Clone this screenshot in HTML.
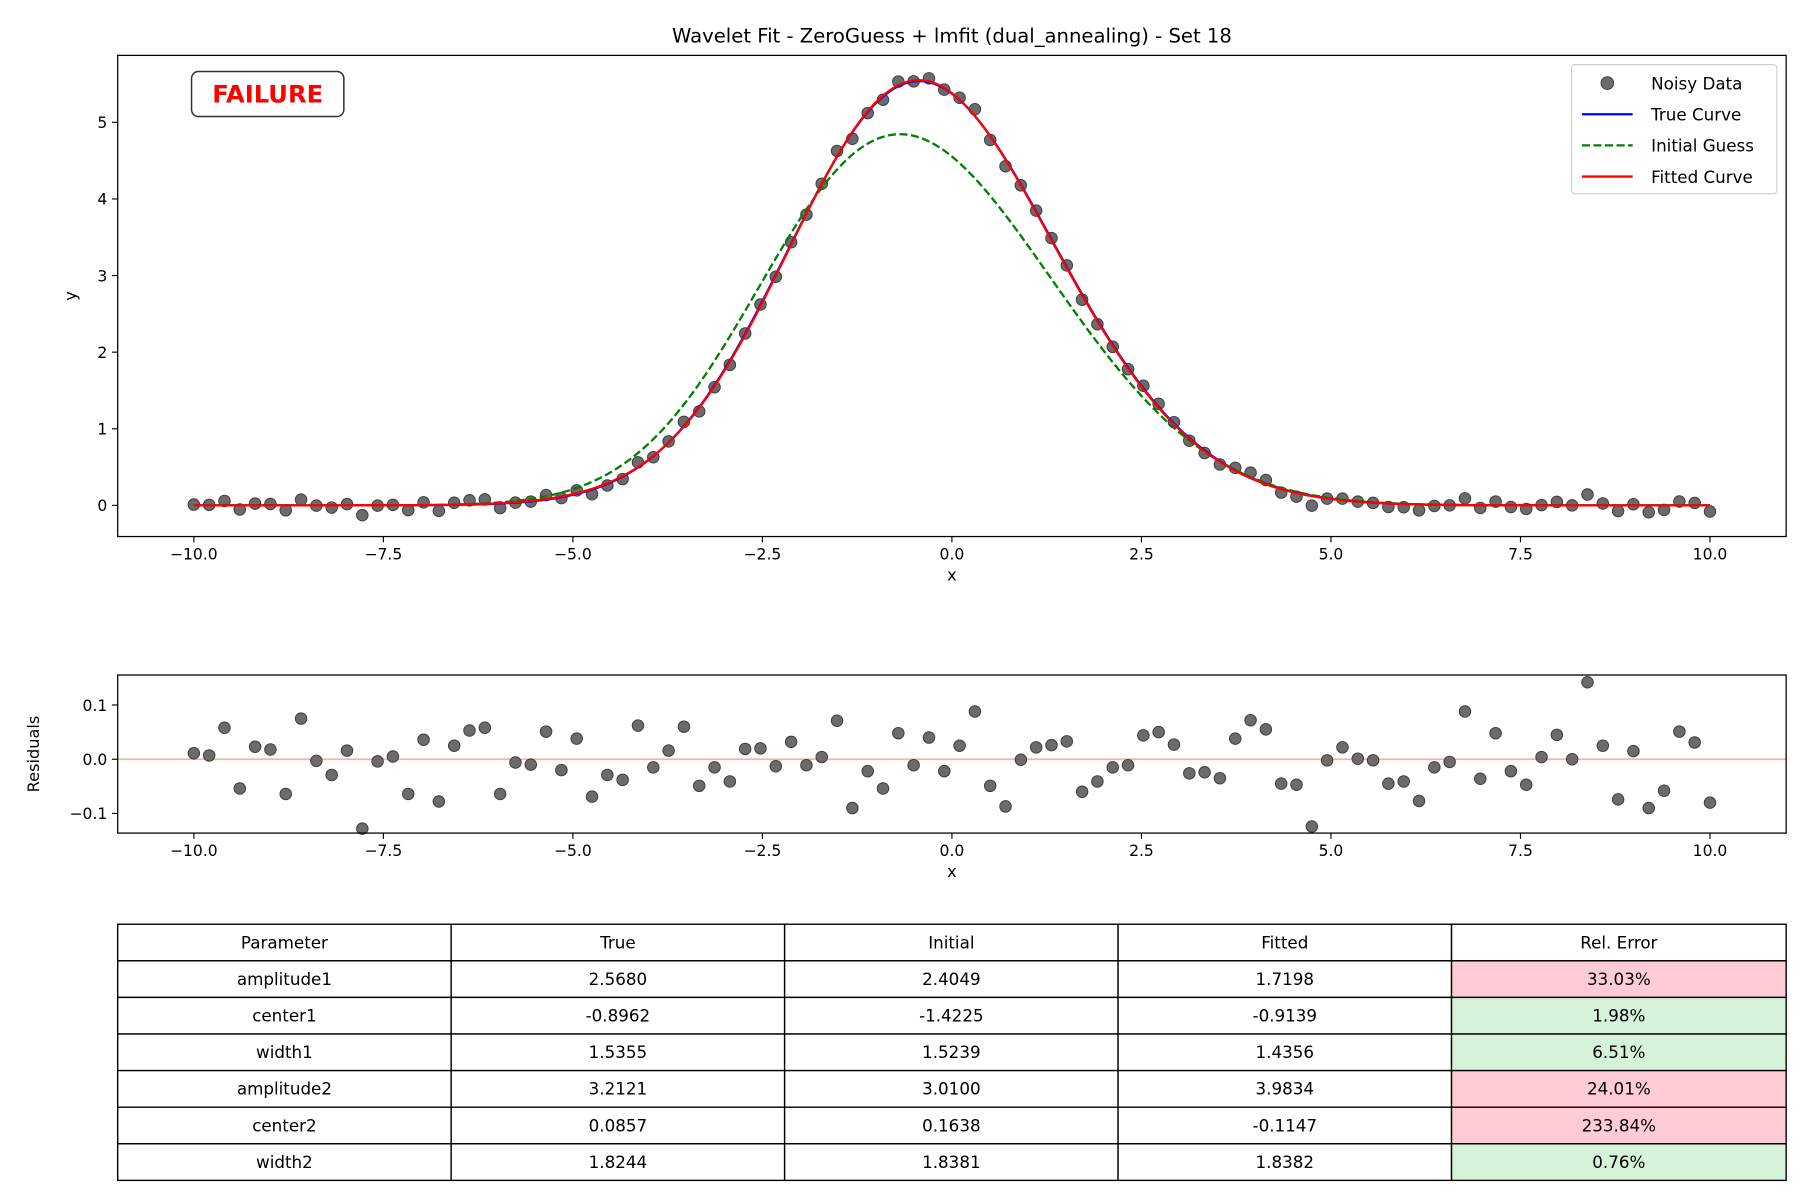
<!DOCTYPE html>
<html><head><meta charset="utf-8"><style>
html,body{margin:0;padding:0;background:#fff;}
svg{display:block;font-family:"DejaVu Sans","Liberation Sans",sans-serif;}
</style></head><body>
<svg id="fig" width="1800" height="1200" viewBox="0 0 1560 1040" xmlns="http://www.w3.org/2000/svg">
<rect width="1560" height="1040" fill="#fff"/>
<text x="825" y="37" font-size="17" text-anchor="middle">Wavelet Fit - ZeroGuess + lmfit (dual_annealing) - Set 18</text>
<g id="main"></g>
<g id="resid"></g>
<g id="table"></g>
</svg>
<script>
const paramNames=["amplitude1","center1","width1","amplitude2","center2","width2"];
const trueParams=[2.5680,-0.8962,1.5355,3.2121,0.0857,1.8244];
const initParams=[2.4049,-1.4225,1.5239,3.0100,0.1638,1.8381];
const fitParams=[1.7198,-0.9139,1.4356,3.9834,-0.1147,1.8382];
const relErr=["33.03%","1.98%","6.51%","24.01%","233.84%","0.76%"];
const relFail=[true,false,false,true,true,false];
const xTicks=[-10,-7.5,-5,-2.5,0,2.5,5,7.5,10];
const yTicks=[0,1,2,3,4,5];
const rTicks=[-0.1,0.0,0.1];
const residuals=[0.011,0.007,0.058,-0.054,0.023,0.018,-0.064,0.075,-0.003,-0.029,0.016,-0.128,-0.004,0.005,-0.064,0.036,-0.078,0.025,0.053,0.058,-0.064,-0.006,-0.010,0.051,-0.020,0.038,-0.069,-0.029,-0.038,0.062,-0.015,0.016,0.060,-0.049,-0.015,-0.041,0.019,0.020,-0.013,0.032,-0.011,0.004,0.071,-0.090,-0.022,-0.054,0.048,-0.011,0.040,-0.022,0.025,0.088,-0.049,-0.087,-0.001,0.022,0.026,0.033,-0.060,-0.041,-0.015,-0.011,0.044,0.050,0.027,-0.026,-0.024,-0.035,0.038,0.072,0.055,-0.045,-0.047,-0.124,-0.002,0.022,0.001,-0.002,-0.045,-0.041,-0.077,-0.015,-0.005,0.088,-0.036,0.048,-0.022,-0.047,0.004,0.045,0.000,0.142,0.025,-0.074,0.015,-0.090,-0.058,0.051,0.031,-0.080];

const NS="http://www.w3.org/2000/svg";
function mk(tag,attrs,parent,text){const e=document.createElementNS(NS,tag);for(const k in attrs)e.setAttribute(k,attrs[k]);if(text!==undefined)e.textContent=text;parent.appendChild(e);return e;}
function model(p,x){return p[0]*Math.exp(-((x-p[1])**2)/(2*p[2]*p[2]))+p[3]*Math.exp(-((x-p[4])**2)/(2*p[5]*p[5]));}
const N=residuals.length;
const xs=residuals.map((_,i)=>-10+20*i/(N-1));
const noisy=xs.map((x,i)=>model(fitParams,x)+residuals[i]);

const L=102,R=1548;
const sx=x=>168+(x+10)*(1482-168)/20;
// main
const mT=48,mB=465;
const sy=y=>438-y*(438-106)/5;
const main=document.getElementById('main');
function axes(g,top,bot,ticksY,syf,fmtY,yLabel,labelX){
  xTicks.forEach(t=>{const x=sx(t);
    const tk=mk('line',{x1:x,x2:x,y1:bot,y2:bot+5,stroke:'#000','stroke-width':1},g);
    
    const tl=mk('text',{x:x,y:bot+20,'font-size':13.5,'text-anchor':'middle'},g,(t<0?'−':'')+Math.abs(t).toFixed(1));
    });
  ticksY.forEach(t=>{const y=syf(t);
    const tk=mk('line',{x1:L-5,x2:L,y1:y,y2:y,stroke:'#000','stroke-width':1},g);
    
    const tl=mk('text',{x:L-9,y:y+5,'font-size':13.5,'text-anchor':'end'},g,fmtY(t));
    });
  const xl=mk('text',{x:825,y:bot+38,'font-size':14,'text-anchor':'middle'},g,'x');
  
  const yl=mk('text',{x:0,y:0,'font-size':14,'text-anchor':'middle',transform:`translate(${labelX},${(top+bot)/2}) rotate(-90)`},g,yLabel);
  
  const fr=mk('rect',{x:L,y:top,width:R-L,height:bot-top,fill:'none',stroke:'#000','stroke-width':1.1},g);
  
}
function curvePath(p){let d='';for(let i=0;i<=400;i++){const x=-10+20*i/400;d+=(i?'L':'M')+sx(x).toFixed(2)+','+sy(model(p,x)).toFixed(2);}return d;}
noisy.forEach((v,i)=>{const c=mk('circle',{cx:sx(xs[i]),cy:sy(v),r:5,fill:'#6b6b6b',stroke:'#3a3a3a','stroke-width':0.8},main);
  });
let p1=mk('path',{d:curvePath(trueParams),fill:'none',stroke:'#0000ff','stroke-width':2},main);

let p2=mk('path',{d:curvePath(initParams),fill:'none',stroke:'#008000','stroke-width':2,'stroke-dasharray':'7,3'},main);

let p3=mk('path',{d:curvePath(fitParams),fill:'none',stroke:'#ff0000','stroke-width':2},main);

axes(main,mT,mB,yTicks,sy,t=>String(t),'y',66);
// failure badge
const fb=mk('rect',{x:166,y:62,width:132,height:39,rx:6,fill:'#fff',stroke:'#333','stroke-width':1.3},main);

const ft=mk('text',{x:232,y:89,'font-size':21,'font-weight':'bold',fill:'#ff0000','text-anchor':'middle'},main,'FAILURE');

// legend
const lg=mk('g',{},main);

mk('rect',{x:1362,y:56,width:178,height:112,rx:3,fill:'#fff',stroke:'#d0d0d0','stroke-width':1},lg);
const lgItems=[['Noisy Data','pt'],['True Curve','#0000ff'],['Initial Guess','#008000'],['Fitted Curve','#ff0000']];
lgItems.forEach((it,i)=>{const y=72+i*27;
  const e=mk('g',{},lg);
  if(it[1]==='pt')mk('circle',{cx:1393,cy:y,r:5.5,fill:'#6b6b6b',stroke:'#3a3a3a','stroke-width':0.8},e);
  else mk('line',{x1:1371,x2:1415,y1:y,y2:y,stroke:it[1],'stroke-width':2,'stroke-dasharray':i===2?'7,3':'none'},e);
  mk('text',{x:1431,y:y+5.5,'font-size':14.5},e,it[0]);});
// residuals
const rT=585,rB=722;
const ry=v=>658-v*470;
const rg=document.getElementById('resid');
const zl=mk('line',{x1:L,x2:R,y1:ry(0),y2:ry(0),stroke:'#ff9999','stroke-width':1.5,opacity:0.8},rg);

residuals.forEach((v,i)=>{const c=mk('circle',{cx:sx(xs[i]),cy:ry(v),r:5,fill:'#6b6b6b',stroke:'#3a3a3a','stroke-width':0.8},rg);
  });
// swap y scale for axes helper
axes(rg,rT,rB,rTicks,ry,t=>(t<0?'−':'')+Math.abs(t).toFixed(1),'Residuals',34);
// table
const tg=document.getElementById('table');
const cols=[102,391,680,969,1258,1548];const tT=801,rowH=(1023-801)/7;
const header=["Parameter","True","Initial","Fitted","Rel. Error"];
for(let r=0;r<7;r++){
  for(let c=0;c<5;c++){
    let fill='#fff';
    if(r>0&&c===4)fill=relFail[r-1]?'#ffccd5':'#d6f2da';
    const cell=mk('rect',{x:cols[c],y:tT+r*rowH,width:cols[c+1]-cols[c],height:rowH,fill:fill,stroke:'#000','stroke-width':1.2},tg);
    
    let txt;
    if(r===0)txt=header[c];
    else{const k=r-1;txt=[paramNames[k],trueParams[k].toFixed(4),initParams[k].toFixed(4),fitParams[k].toFixed(4),relErr[k]][c];}
    const t=mk('text',{x:(cols[c]+cols[c+1])/2,y:tT+r*rowH+rowH/2+5,'font-size':14.5,'text-anchor':'middle'},tg,txt);
    
  }
}
</script>
</body></html>
